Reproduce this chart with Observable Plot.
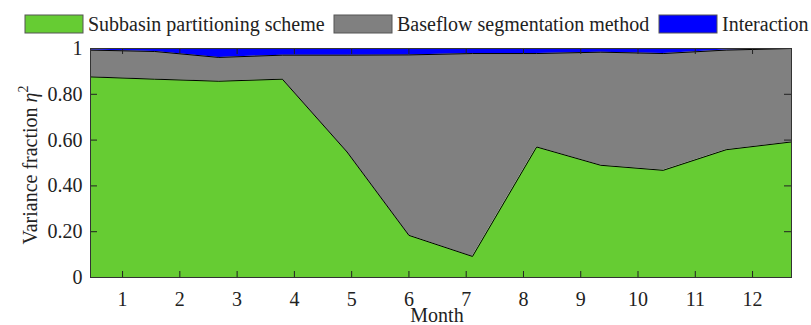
<!DOCTYPE html>
<html>
<head>
<meta charset="utf-8">
<script src="https://cdn.jsdelivr.net/npm/d3@7"></script>
<script src="https://cdn.jsdelivr.net/npm/@observablehq/plot@0.6"></script>
<style>
  html, body { margin: 0; padding: 0; background: #fff; }
  #chart { width: 811px; height: 325px; }
</style>
</head>
<body>
<div id="chart"></div>
<script>
// Month tick labels
const monthTicks = [1, 2, 3, 4, 5, 6, 7, 8, 9, 10, 11, 12];
// Positions (in month units) of the 12 monthly values as drawn in the picture
const xPos = [0.44, 1.56, 2.68, 3.79, 4.92, 6.0, 7.11, 8.23, 9.35, 10.44, 11.54, 12.68];
// Series (variance fractions)
const seriesNames = ["Subbasin partitioning scheme", "Baseflow segmentation method", "Interaction"];
const seriesColors = ["#66cc33", "#808080", "#0000ff"];
const subbasin    = [0.876, 0.866, 0.857, 0.866, 0.548, 0.184, 0.092, 0.570, 0.490, 0.468, 0.558, 0.592];
const baseflow    = [0.117, 0.121, 0.104, 0.105, 0.423, 0.788, 0.886, 0.408, 0.494, 0.510, 0.435, 0.408];
const interaction = [0.007, 0.013, 0.039, 0.029, 0.029, 0.028, 0.022, 0.022, 0.016, 0.022, 0.007, 0.000];
const yTicks = [0, 0.2, 0.4, 0.6, 0.8, 1];
const yTicksInner = [0.2, 0.4, 0.6, 0.8];

const valuesBySeries = [subbasin, baseflow, interaction];
const long = [];
seriesNames.forEach((name, si) => {
  valuesBySeries[si].forEach((v, i) => long.push({series: name, x: xPos[i], v}));
});

const fmtY = d => (d === 0 ? "0" : d === 1 ? "1" : d.toFixed(2));

const W = 811, H = 325, ML = 90, MR = 20, MT = 48, MB = 48;
const frameW = W - ML - MR, frameH = H - MT - MB;
const tickLen = 6;

const chart = Plot.plot({
  width: W,
  height: H,
  marginLeft: ML,
  marginRight: MR,
  marginTop: MT,
  marginBottom: MB,
  style: {fontFamily: "'Liberation Serif', 'Times New Roman', serif", fontSize: "20px", color: "#222", background: "#fff"},
  x: {domain: [xPos[0], xPos[xPos.length - 1]], axis: null},
  y: {domain: [0, 1], axis: null},
  color: {domain: seriesNames, range: seriesColors},
  marks: [
    Plot.areaY(long, {x: "x", y: "v", z: "series", fill: "series", curve: "linear"}),
    Plot.lineY(long.filter(d => d.series !== "Interaction"), Plot.stackY2({x: "x", y: "v", z: "series", stroke: "#000", strokeWidth: 1})),
    Plot.axisX(monthTicks, {anchor: "bottom", tickSize: 0, tickPadding: 14, tickFormat: d => String(d), label: null}),
    Plot.axisY(yTicks, {anchor: "left", tickSize: 0, tickPadding: 8, tickFormat: fmtY, label: null}),
    // inward ticks (MATLAB box style)
    Plot.tickX(monthTicks, {x: d => d, insetTop: frameH - tickLen, stroke: "#222"}),
    Plot.tickX(monthTicks, {x: d => d, insetBottom: frameH - tickLen, stroke: "#222"}),
    Plot.tickY(yTicksInner, {y: d => d, insetRight: frameW - tickLen - 1, stroke: "#222"}),
    Plot.tickY(yTicksInner, {y: d => d, insetLeft: frameW - tickLen - 1, stroke: "#222"}),
    Plot.frame({stroke: "#333", strokeWidth: 1})
  ]
});
document.getElementById("chart").appendChild(chart);

const svg = d3.select(chart);
const ff = "'Liberation Serif', 'Times New Roman', serif";

// y label
const yl = svg.append("text")
  .attr("transform", "translate(37,165) rotate(-90)")
  .attr("text-anchor", "middle")
  .attr("font-family", ff).attr("font-size", 20).attr("fill", "#222");
yl.append("tspan").text("Variance fraction ");
yl.append("tspan").attr("font-style", "italic").text("η");
yl.append("tspan").attr("font-size", 14).attr("dy", -9).text("2");

// x label
svg.append("text")
  .attr("x", 437).attr("y", 322)
  .attr("text-anchor", "middle")
  .attr("font-family", ff).attr("font-size", 20).attr("fill", "#222")
  .text("Month");

// legend
const legendX = [25, 334, 659];
const lg = svg.append("g").attr("text-anchor", "start");
seriesNames.forEach((name, i) => {
  lg.append("rect").attr("x", legendX[i]).attr("y", 15).attr("width", 58).attr("height", 18)
    .attr("fill", seriesColors[i]).attr("stroke", "#555").attr("stroke-width", 1);
  lg.append("text").attr("x", legendX[i] + 63).attr("y", 31)
    .attr("text-anchor", "start")
    .attr("font-family", ff).attr("font-size", 20).attr("fill", "#222").text(name);
});
</script>
</body>
</html>
